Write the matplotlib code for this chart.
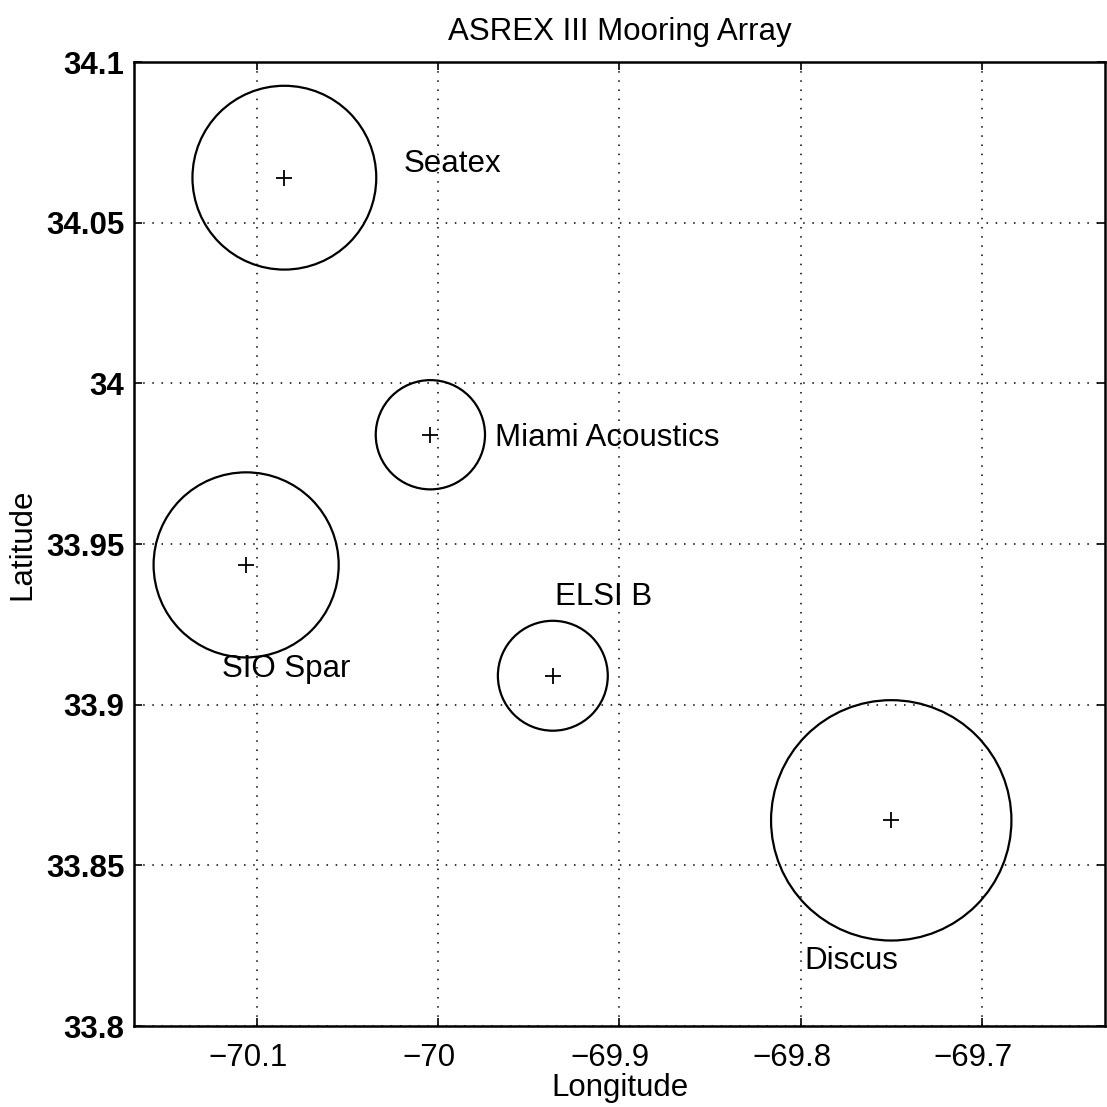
import matplotlib
matplotlib.use('Agg')
import matplotlib.pyplot as plt
from matplotlib.patches import Ellipse
import matplotlib.transforms as mtransforms

# ---- data ----
names = ['Seatex', 'Miami Acoustics', 'SIO Spar', 'ELSI B', 'Discus']
lon = [-70.085, -70.0044, -70.1061, -69.9368, -69.750]
lat = [34.064, 33.984, 33.9435, 33.909, 33.864]
radius_lat = [0.0286, 0.0170, 0.0288, 0.0171, 0.0374]   # circle radius in degrees latitude
label_lon = [-70.0194, -69.969, -70.1196, -69.9355, -69.798]
label_lat = [34.0683, 33.983, 33.911, 33.9334, 33.8201]

xticks = [-70.1, -70.0, -69.9, -69.8, -69.7]
xtick_labels = ['\u221270.1', '\u221270', '\u221269.9', '\u221269.8', '\u221269.7']
yticks = [33.8, 33.85, 33.9, 33.95, 34.0, 34.05, 34.1]
ytick_labels = ['33.8', '33.85', '33.9', '33.95', '34', '34.05', '34.1']
xlim = (-70.168, -69.632)
ylim = (33.8, 34.1)

plt.rcParams['font.family'] = ['Liberation Sans', 'DejaVu Sans']
FS = 22.5

W = H = 1107
fig = plt.figure(figsize=(W / 100, H / 100), dpi=100)
ax_left, ax_right, ax_top, ax_bot = 134, 1105, 62, 1026
ax = fig.add_axes([ax_left / W, 1 - ax_bot / H, (ax_right - ax_left) / W, (ax_bot - ax_top) / H])
ax.set_xlim(*xlim)
ax.set_ylim(*ylim)

# pixels per degree on each axis, so circles appear round
ppd_x = (ax_right - ax_left) / (xlim[1] - xlim[0])
ppd_y = (ax_bot - ax_top) / (ylim[1] - ylim[0])
ratio = ppd_y / ppd_x

ax.grid(True, color='black', linestyle=(0, (1, 5)), linewidth=1.1)
ax.set_axisbelow(True)

for x, y, r in zip(lon, lat, radius_lat):
    e = Ellipse((x, y), width=2 * r * ratio, height=2 * r, fill=False,
                edgecolor='black', linewidth=1.6, zorder=3)
    ax.add_patch(e)
ax.plot(lon, lat, linestyle='none', marker='+', color='black',
        markersize=11, markeredgewidth=1.3, zorder=4)

for n, x, y in zip(names, label_lon, label_lat):
    ax.text(x, y, n, ha='left', va='center', fontsize=FS, color='black', zorder=5)

ax.set_xticks(xticks)
ax.set_xticklabels(xtick_labels, fontsize=FS)
ax.set_yticks(yticks)
ax.set_yticklabels(ytick_labels, fontsize=FS, fontweight='bold')
ax.tick_params(direction='in', length=6, width=1.2, top=True, right=True,
               colors='black')
ax.tick_params(axis='x', pad=12)
ax.tick_params(axis='y', pad=7)

# shift x tick labels slightly left like the reference
offset = mtransforms.ScaledTranslation(-9 / 100, 0, fig.dpi_scale_trans)
for lbl in ax.get_xticklabels():
    lbl.set_transform(lbl.get_transform() + offset)

for s in ax.spines.values():
    s.set_linewidth(1.8)
    s.set_color('black')

ax.set_xlabel('Longitude', fontsize=FS, labelpad=0)
ax.set_ylabel('Latitude', fontsize=FS, labelpad=6)
ax.set_title('ASREX III Mooring Array', fontsize=FS, pad=16)

fig.savefig('out.png', dpi=100, facecolor='white')
